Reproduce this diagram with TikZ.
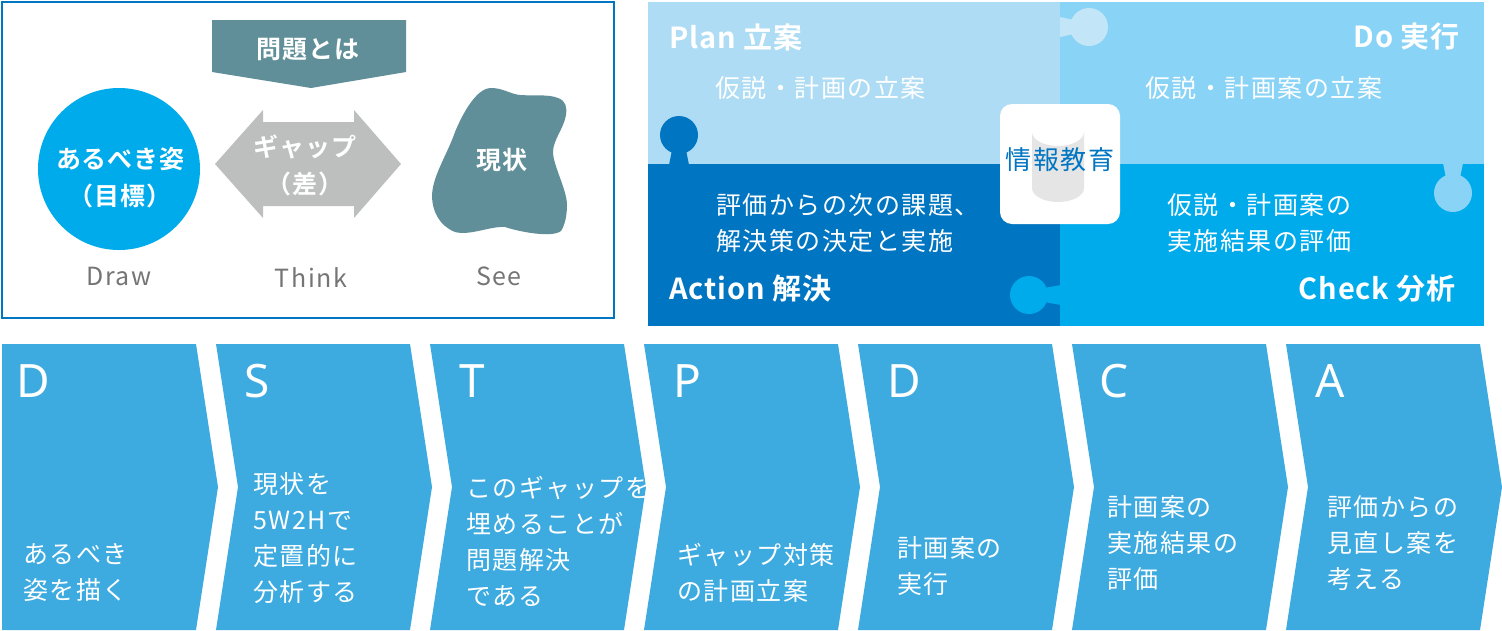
\documentclass[tikz,border=0pt]{standalone}
\usepackage{fontspec}
\newfontfamily\jp[LetterSpace=6]{Noto Sans CJK JP}
\newfontfamily\jpb[LetterSpace=3,BoldFont={Noto Sans CJK JP Bold}]{Noto Sans CJK JP}
\newfontfamily\latb{Noto Sans}
\definecolor{teal1}{HTML}{618F99}
\definecolor{cyan1}{HTML}{00ABEC}
\definecolor{blue1}{HTML}{0075C1}
\definecolor{pale1}{HTML}{AEDCF4}
\definecolor{pale2}{HTML}{89D3F6}
\definecolor{chev}{HTML}{3DAAE0}
\definecolor{gap}{HTML}{BDBFBF}
\definecolor{lab}{HTML}{757575}
\tikzset{
  chevbody/.style={fill=chev,draw=none},
  chevtext/.style={anchor=west,inner sep=0pt,text=white,align=left,font=\jp\fontsize{25}{36}\selectfont},
  bigletter/.style={anchor=west,inner sep=0pt,text=white,font=\latb\bfseries\fontsize{46}{46}\selectfont},
  paneltext/.style={anchor=west,inner sep=0pt,text=white,align=left,font=\jp\fontsize{25}{36}\selectfont},
  titletext/.style={inner sep=0pt,text=white,font=\jpb\bfseries\fontsize{29}{32}\selectfont},
  heavy/.style={inner sep=0pt,text=white,align=center,font=\jpb\bfseries\fontsize{25}{37}\selectfont},
  caption/.style={inner sep=0pt,text=lab,font=\jp\fontsize{25}{30}\selectfont},
}
\begin{document}
\begin{tikzpicture}[x=1pt,y=-1pt]
\useasboundingbox (0,0) rectangle (1502,630);
% left panel
\draw[blue1,line width=2pt] (2,2) rectangle (614,318);
\fill[teal1] (212,20) -- (406,20) -- (406,72) -- (311,88) -- (212,72) -- cycle;
\node[heavy] (banner) at (308,50) {問題とは};
\fill[cyan1] (119,169) circle (81);
\node[heavy] (ideal) at (120,177.5) {あるべき姿\\（目標）};
\fill[gap] (215,164) -- (263,110) -- (263,122) -- (354,122) -- (354,110) -- (401,164)
  -- (354,218) -- (354,206) -- (263,206) -- (263,218) -- cycle;
\node[heavy] (gapt) at (305,165.5) {ギャップ\\（差）};
\fill[teal1] (491,88) .. controls (503,88) and (510,94) .. (520,95)
  .. controls (535,96) and (548,94) .. (558,98)
  .. controls (566,101) and (567,107) .. (566,115)
  .. controls (564,128) and (553,140) .. (553,152)
  .. controls (553,165) and (567,190) .. (567,205)
  .. controls (567,215) and (565,225) .. (561,231)
  .. controls (552,238) and (520,232) .. (505,227)
  .. controls (490,226) and (470,236) .. (455,232)
  .. controls (440,226) and (432,212) .. (432,195)
  .. controls (433,175) and (447,155) .. (455,132)
  .. controls (462,115) and (476,88) .. (491,88) -- cycle;
\node[heavy] (now) at (502,160) {現状};
\node[caption] (draw) at (119,276) {Draw};
\node[caption] (think) at (311,278) {Think};
\node[caption] (see) at (499,276) {See};
% right panel
\fill[pale1] (648,2) rectangle (1060,164);
\fill[pale2] (1060,2) rectangle (1484,164);
\fill[blue1] (648,164) rectangle (1060,326);
\fill[cyan1] (1060,164) rectangle (1484,326);
% puzzle knobs
\fill[pale1!75!white] (1089,27) circle (19);
\fill[pale1!75!white] (1060,17) -- (1074,20) -- (1074,34) -- (1060,37) -- cycle;
\fill[blue1] (679,135) circle (19);
\fill[blue1] (669,165) -- (672,150) -- (686,150) -- (689,165) -- cycle;
\fill[pale2] (1453,193) circle (19);
\fill[pale2] (1443,163) -- (1446,178) -- (1460,178) -- (1463,163) -- cycle;
\fill[cyan1] (1029,295) circle (19);
\fill[cyan1] (1061,285) -- (1044,288) -- (1044,302) -- (1061,305) -- cycle;
\node[titletext,anchor=west] (plan) at (669,37) {Plan 立案};
\node[titletext,anchor=east] (do) at (1460,37) {Do 実行};
\node[titletext,anchor=west] (action) at (669,289) {Action 解決};
\node[titletext,anchor=east] (check) at (1456,289) {Check 分析};
\node[paneltext] (p1) at (715,88) {仮説・計画の立案};
\node[paneltext] (p2) at (1145,88) {仮説・計画案の立案};
\node[paneltext] (p3) at (716,223) {評価からの次の課題、\\解決策の決定と実施};
\node[paneltext] (p4) at (1167,223) {仮説・計画案の\\実施結果の評価};
% centre
\fill[white,rounded corners=12] (1000,104) rectangle (1120,224);
\fill[black!10] (1032,132) arc[start angle=180,end angle=0,x radius=26,y radius=14]
  -- (1084,188) arc[start angle=0,end angle=180,x radius=26,y radius=14] -- cycle;
\draw[white,line width=1pt] (1032,132) arc[start angle=180,end angle=360,x radius=26,y radius=8];
\node[inner sep=0pt,text=blue1,font=\jp\fontsize{26}{30}\selectfont] (info) at (1060,160) {情報教育};
% chevrons
\foreach \x/\notch in {0/0,214/1,428/1,642/1,856/1,1070/1,1284/1}{
  \ifnum\notch=1
    \fill[chevbody,shift={(\x,0)}] (2,344) -- (196,344) -- (218,487) -- (196,630) -- (2,630) -- (24,487) -- cycle;
  \else
    \fill[chevbody] (2,344) -- (196,344) -- (218,487) -- (196,630) -- (2,630) -- cycle;
  \fi
}
\node[bigletter] (l1) at (16,381) {D};
\node[bigletter] (l2) at (244,381) {S};
\node[bigletter] (l3) at (459,381) {T};
\node[bigletter] (l4) at (673,381) {P};
\node[bigletter] (l5) at (887,381) {D};
\node[bigletter] (l6) at (1099,381) {C};
\node[bigletter] (l7) at (1315,381) {A};
\node[chevtext] (t1) at (23,573) {あるべき\\姿を描く};
\node[chevtext] (t2) at (253,538) {現状を\\5W2Hで\\定置的に\\分析する};
\node[chevtext] (t3) at (466,541) {このギャップを\\埋めることが\\問題解決\\である};
\node[chevtext] (t4) at (677,573) {ギャップ対策\\の計画立案};
\node[chevtext] (t5) at (897,566) {計画案の\\実行};
\node[chevtext] (t6) at (1107,543) {計画案の\\実施結果の\\評価};
\node[chevtext] (t7) at (1327,543) {評価からの\\見直し案を\\考える};
\end{tikzpicture}
\end{document}
